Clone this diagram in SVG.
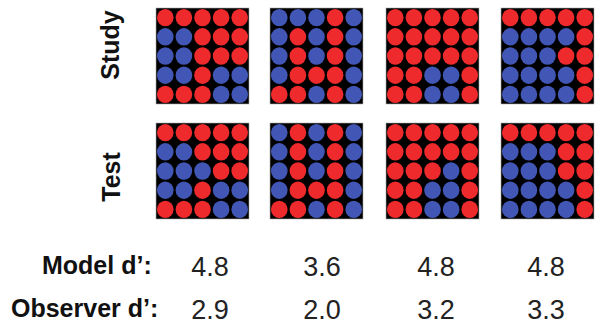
<svg xmlns="http://www.w3.org/2000/svg" xmlns:xlink="http://www.w3.org/1999/xlink" width="596" height="325" viewBox="0 0 596 325">
<style>
.lab{font-family:"Liberation Sans",Arial,sans-serif;font-weight:bold;font-size:25px;fill:#111}
.num{font-family:"Liberation Sans",Arial,sans-serif;font-size:27px;fill:#222;text-anchor:middle}
.bg{fill:#000;stroke:#aaa;stroke-width:0.6}
</style>
<defs>
<ellipse id="R" rx="8.3" ry="8.7" fill="#ee2a2c"/>
<ellipse id="B" rx="8.3" ry="8.7" fill="#4257b5"/>
</defs>
<rect width="596" height="325" fill="#fff"/>
<g id="labels">
<text class="lab" transform="translate(119,45) rotate(-90)" text-anchor="middle">Study</text>
<text class="lab" transform="translate(120,177) rotate(-90)" text-anchor="middle">Test</text>
<text class="lab" x="42" y="274">Model d’:</text>
<text class="lab" x="11" y="317">Observer d’:</text>
</g>
<g id="study1" transform="translate(156,8)">
<rect class="bg" width="93" height="96"/>
<use href="#R" x="9.3" y="9.6"/><use href="#R" x="27.9" y="9.6"/><use href="#R" x="46.5" y="9.6"/><use href="#R" x="65.1" y="9.6"/><use href="#R" x="83.7" y="9.6"/>
<use href="#B" x="9.3" y="28.8"/><use href="#B" x="27.9" y="28.8"/><use href="#R" x="46.5" y="28.8"/><use href="#R" x="65.1" y="28.8"/><use href="#R" x="83.7" y="28.8"/>
<use href="#B" x="9.3" y="48"/><use href="#B" x="27.9" y="48"/><use href="#R" x="46.5" y="48"/><use href="#R" x="65.1" y="48"/><use href="#R" x="83.7" y="48"/>
<use href="#B" x="9.3" y="67.2"/><use href="#B" x="27.9" y="67.2"/><use href="#R" x="46.5" y="67.2"/><use href="#B" x="65.1" y="67.2"/><use href="#B" x="83.7" y="67.2"/>
<use href="#R" x="9.3" y="86.4"/><use href="#R" x="27.9" y="86.4"/><use href="#R" x="46.5" y="86.4"/><use href="#B" x="65.1" y="86.4"/><use href="#B" x="83.7" y="86.4"/>
</g>
<g id="study2" transform="translate(270,8)">
<rect class="bg" width="93" height="96"/>
<use href="#B" x="9.3" y="9.6"/><use href="#B" x="27.9" y="9.6"/><use href="#B" x="46.5" y="9.6"/><use href="#R" x="65.1" y="9.6"/><use href="#B" x="83.7" y="9.6"/>
<use href="#B" x="9.3" y="28.8"/><use href="#R" x="27.9" y="28.8"/><use href="#B" x="46.5" y="28.8"/><use href="#R" x="65.1" y="28.8"/><use href="#B" x="83.7" y="28.8"/>
<use href="#B" x="9.3" y="48"/><use href="#R" x="27.9" y="48"/><use href="#B" x="46.5" y="48"/><use href="#R" x="65.1" y="48"/><use href="#B" x="83.7" y="48"/>
<use href="#B" x="9.3" y="67.2"/><use href="#R" x="27.9" y="67.2"/><use href="#R" x="46.5" y="67.2"/><use href="#R" x="65.1" y="67.2"/><use href="#B" x="83.7" y="67.2"/>
<use href="#R" x="9.3" y="86.4"/><use href="#R" x="27.9" y="86.4"/><use href="#B" x="46.5" y="86.4"/><use href="#R" x="65.1" y="86.4"/><use href="#B" x="83.7" y="86.4"/>
</g>
<g id="study3" transform="translate(386,8)">
<rect class="bg" width="93" height="96"/>
<use href="#R" x="9.3" y="9.6"/><use href="#R" x="27.9" y="9.6"/><use href="#R" x="46.5" y="9.6"/><use href="#R" x="65.1" y="9.6"/><use href="#R" x="83.7" y="9.6"/>
<use href="#R" x="9.3" y="28.8"/><use href="#R" x="27.9" y="28.8"/><use href="#R" x="46.5" y="28.8"/><use href="#R" x="65.1" y="28.8"/><use href="#R" x="83.7" y="28.8"/>
<use href="#R" x="9.3" y="48"/><use href="#R" x="27.9" y="48"/><use href="#R" x="46.5" y="48"/><use href="#R" x="65.1" y="48"/><use href="#R" x="83.7" y="48"/>
<use href="#R" x="9.3" y="67.2"/><use href="#R" x="27.9" y="67.2"/><use href="#B" x="46.5" y="67.2"/><use href="#B" x="65.1" y="67.2"/><use href="#R" x="83.7" y="67.2"/>
<use href="#R" x="9.3" y="86.4"/><use href="#R" x="27.9" y="86.4"/><use href="#B" x="46.5" y="86.4"/><use href="#B" x="65.1" y="86.4"/><use href="#R" x="83.7" y="86.4"/>
</g>
<g id="study4" transform="translate(501,8)">
<rect class="bg" width="93" height="96"/>
<use href="#R" x="9.3" y="9.6"/><use href="#R" x="27.9" y="9.6"/><use href="#R" x="46.5" y="9.6"/><use href="#R" x="65.1" y="9.6"/><use href="#R" x="83.7" y="9.6"/>
<use href="#B" x="9.3" y="28.8"/><use href="#B" x="27.9" y="28.8"/><use href="#B" x="46.5" y="28.8"/><use href="#B" x="65.1" y="28.8"/><use href="#R" x="83.7" y="28.8"/>
<use href="#B" x="9.3" y="48"/><use href="#B" x="27.9" y="48"/><use href="#B" x="46.5" y="48"/><use href="#R" x="65.1" y="48"/><use href="#R" x="83.7" y="48"/>
<use href="#B" x="9.3" y="67.2"/><use href="#B" x="27.9" y="67.2"/><use href="#B" x="46.5" y="67.2"/><use href="#B" x="65.1" y="67.2"/><use href="#R" x="83.7" y="67.2"/>
<use href="#B" x="9.3" y="86.4"/><use href="#B" x="27.9" y="86.4"/><use href="#B" x="46.5" y="86.4"/><use href="#B" x="65.1" y="86.4"/><use href="#R" x="83.7" y="86.4"/>
</g>
<g id="test1" transform="translate(156,123)">
<rect class="bg" width="93" height="96"/>
<use href="#R" x="9.3" y="9.6"/><use href="#R" x="27.9" y="9.6"/><use href="#R" x="46.5" y="9.6"/><use href="#R" x="65.1" y="9.6"/><use href="#R" x="83.7" y="9.6"/>
<use href="#B" x="9.3" y="28.8"/><use href="#B" x="27.9" y="28.8"/><use href="#R" x="46.5" y="28.8"/><use href="#R" x="65.1" y="28.8"/><use href="#R" x="83.7" y="28.8"/>
<use href="#B" x="9.3" y="48"/><use href="#B" x="27.9" y="48"/><use href="#B" x="46.5" y="48"/><use href="#R" x="65.1" y="48"/><use href="#R" x="83.7" y="48"/>
<use href="#B" x="9.3" y="67.2"/><use href="#B" x="27.9" y="67.2"/><use href="#R" x="46.5" y="67.2"/><use href="#B" x="65.1" y="67.2"/><use href="#B" x="83.7" y="67.2"/>
<use href="#R" x="9.3" y="86.4"/><use href="#R" x="27.9" y="86.4"/><use href="#R" x="46.5" y="86.4"/><use href="#B" x="65.1" y="86.4"/><use href="#B" x="83.7" y="86.4"/>
</g>
<g id="test2" transform="translate(270,123)">
<rect class="bg" width="93" height="96"/>
<use href="#B" x="9.3" y="9.6"/><use href="#R" x="27.9" y="9.6"/><use href="#B" x="46.5" y="9.6"/><use href="#R" x="65.1" y="9.6"/><use href="#B" x="83.7" y="9.6"/>
<use href="#B" x="9.3" y="28.8"/><use href="#R" x="27.9" y="28.8"/><use href="#B" x="46.5" y="28.8"/><use href="#R" x="65.1" y="28.8"/><use href="#B" x="83.7" y="28.8"/>
<use href="#B" x="9.3" y="48"/><use href="#R" x="27.9" y="48"/><use href="#B" x="46.5" y="48"/><use href="#R" x="65.1" y="48"/><use href="#B" x="83.7" y="48"/>
<use href="#B" x="9.3" y="67.2"/><use href="#R" x="27.9" y="67.2"/><use href="#R" x="46.5" y="67.2"/><use href="#R" x="65.1" y="67.2"/><use href="#B" x="83.7" y="67.2"/>
<use href="#R" x="9.3" y="86.4"/><use href="#R" x="27.9" y="86.4"/><use href="#B" x="46.5" y="86.4"/><use href="#R" x="65.1" y="86.4"/><use href="#B" x="83.7" y="86.4"/>
</g>
<g id="test3" transform="translate(386,123)">
<rect class="bg" width="93" height="96"/>
<use href="#R" x="9.3" y="9.6"/><use href="#R" x="27.9" y="9.6"/><use href="#R" x="46.5" y="9.6"/><use href="#R" x="65.1" y="9.6"/><use href="#R" x="83.7" y="9.6"/>
<use href="#R" x="9.3" y="28.8"/><use href="#R" x="27.9" y="28.8"/><use href="#R" x="46.5" y="28.8"/><use href="#R" x="65.1" y="28.8"/><use href="#R" x="83.7" y="28.8"/>
<use href="#R" x="9.3" y="48"/><use href="#R" x="27.9" y="48"/><use href="#R" x="46.5" y="48"/><use href="#B" x="65.1" y="48"/><use href="#R" x="83.7" y="48"/>
<use href="#R" x="9.3" y="67.2"/><use href="#R" x="27.9" y="67.2"/><use href="#B" x="46.5" y="67.2"/><use href="#B" x="65.1" y="67.2"/><use href="#R" x="83.7" y="67.2"/>
<use href="#R" x="9.3" y="86.4"/><use href="#R" x="27.9" y="86.4"/><use href="#B" x="46.5" y="86.4"/><use href="#B" x="65.1" y="86.4"/><use href="#R" x="83.7" y="86.4"/>
</g>
<g id="test4" transform="translate(501,123)">
<rect class="bg" width="93" height="96"/>
<use href="#R" x="9.3" y="9.6"/><use href="#R" x="27.9" y="9.6"/><use href="#R" x="46.5" y="9.6"/><use href="#R" x="65.1" y="9.6"/><use href="#R" x="83.7" y="9.6"/>
<use href="#B" x="9.3" y="28.8"/><use href="#B" x="27.9" y="28.8"/><use href="#B" x="46.5" y="28.8"/><use href="#R" x="65.1" y="28.8"/><use href="#R" x="83.7" y="28.8"/>
<use href="#B" x="9.3" y="48"/><use href="#B" x="27.9" y="48"/><use href="#B" x="46.5" y="48"/><use href="#R" x="65.1" y="48"/><use href="#R" x="83.7" y="48"/>
<use href="#B" x="9.3" y="67.2"/><use href="#B" x="27.9" y="67.2"/><use href="#B" x="46.5" y="67.2"/><use href="#B" x="65.1" y="67.2"/><use href="#R" x="83.7" y="67.2"/>
<use href="#B" x="9.3" y="86.4"/><use href="#B" x="27.9" y="86.4"/><use href="#B" x="46.5" y="86.4"/><use href="#B" x="65.1" y="86.4"/><use href="#R" x="83.7" y="86.4"/>
</g>
<g id="values">
<text class="num" x="210" y="276">4.8</text>
<text class="num" x="322" y="276">3.6</text>
<text class="num" x="436" y="276">4.8</text>
<text class="num" x="546" y="276">4.8</text>
<text class="num" x="210" y="319">2.9</text>
<text class="num" x="322" y="319">2.0</text>
<text class="num" x="436" y="319">3.2</text>
<text class="num" x="546" y="319">3.3</text>
</g>
</svg>
